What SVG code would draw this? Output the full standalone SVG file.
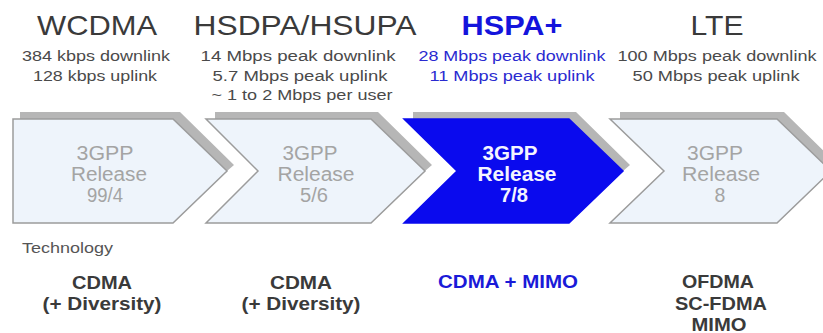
<svg xmlns="http://www.w3.org/2000/svg" width="823" height="333" viewBox="0 0 823 333">
  <style>
    .title { font-family: "Liberation Sans", Arial, sans-serif; font-size: 28px; fill: #3a3a3a; text-anchor: middle; }
    .title.hot { font-weight: bold; fill: #1414dc; }
    .rate { font-family: "Liberation Sans", Arial, sans-serif; font-size: 15.5px; fill: #4a4a4a; text-anchor: middle; }
    .rate.hot { fill: #2a2ad0; }
    .step { fill: #eef4fb; stroke: #9c9c9c; stroke-width: 1.5; stroke-linejoin: miter; }
    .step.hot { fill: #0a0aee; stroke: #0a0aee; }
    .shade { fill: #b6b6b6; }
    .rel { font-family: "Liberation Sans", Arial, sans-serif; font-size: 19.5px; fill: #a4a4a4; text-anchor: middle; }
    .rel.hot { font-weight: bold; fill: #f4f4ff; }
    .label { font-family: "Liberation Sans", Arial, sans-serif; font-size: 14.5px; fill: #555555; }
    .tech { font-family: "Liberation Sans", Arial, sans-serif; font-size: 18px; font-weight: bold; fill: #3a3a3a; text-anchor: middle; }
    .tech.hot { fill: #1a1ad8; }
  </style>
  <rect width="823" height="333" fill="#ffffff"/>

  <!-- WCDMA -->
  <g id="wcdma">
    <text class="title" x="97" y="35" textLength="120" lengthAdjust="spacingAndGlyphs">WCDMA</text>
    <text class="rate" x="96" y="61" textLength="148" lengthAdjust="spacingAndGlyphs">384 kbps downlink</text>
    <text class="rate" x="95" y="81" textLength="124" lengthAdjust="spacingAndGlyphs">128 kbps uplink</text>
    <polygon class="shade" points="20,112 180,112 234,165 227,171 173,119 20,119"/>
    <polygon class="step" points="13,119 173,119 227,171 173,223 13,223"/>
    <text class="rel" x="105" y="160" textLength="57" lengthAdjust="spacingAndGlyphs">3GPP</text>
    <text class="rel" x="109" y="181" textLength="76" lengthAdjust="spacingAndGlyphs">Release</text>
    <text class="rel" x="105" y="202" textLength="36" lengthAdjust="spacingAndGlyphs">99/4</text>
    <text class="tech" x="102" y="289" textLength="60" lengthAdjust="spacingAndGlyphs">CDMA</text>
    <text class="tech" x="102" y="310" textLength="119" lengthAdjust="spacingAndGlyphs">(+ Diversity)</text>
  </g>

  <!-- HSDPA/HSUPA -->
  <g id="hsdpa">
    <text class="title" x="305" y="35" textLength="223" lengthAdjust="spacingAndGlyphs">HSDPA/HSUPA</text>
    <text class="rate" x="298" y="61" textLength="195" lengthAdjust="spacingAndGlyphs">14 Mbps peak downlink</text>
    <text class="rate" x="300" y="81" textLength="175" lengthAdjust="spacingAndGlyphs">5.7 Mbps peak uplink</text>
    <text class="rate" x="302" y="100" textLength="181" lengthAdjust="spacingAndGlyphs">~ 1 to 2 Mbps per user</text>
    <polygon class="shade" points="215,112 378,112 432,165 425,171 371,119 215,119"/>
    <polygon class="step" points="206,119 371,119 425,171 371,223 206,223 258,171"/>
    <text class="rel" x="310" y="160" textLength="55" lengthAdjust="spacingAndGlyphs">3GPP</text>
    <text class="rel" x="316" y="181" textLength="77" lengthAdjust="spacingAndGlyphs">Release</text>
    <text class="rel" x="314" y="202" textLength="28" lengthAdjust="spacingAndGlyphs">5/6</text>
    <text class="tech" x="301" y="289" textLength="62" lengthAdjust="spacingAndGlyphs">CDMA</text>
    <text class="tech" x="301" y="310" textLength="119" lengthAdjust="spacingAndGlyphs">(+ Diversity)</text>
  </g>

  <!-- HSPA+ -->
  <g id="hspa-plus">
    <text class="title hot" x="512" y="35" textLength="101" lengthAdjust="spacingAndGlyphs">HSPA+</text>
    <text class="rate hot" x="512" y="61" textLength="187" lengthAdjust="spacingAndGlyphs">28 Mbps peak downlink</text>
    <text class="rate hot" x="512" y="81" textLength="165" lengthAdjust="spacingAndGlyphs">11 Mbps peak uplink</text>
    <polygon class="shade" points="413,112 576,112 630,165 623,171 569,119 413,119"/>
    <polygon class="step hot" points="404,119 569,119 623,171 569,223 404,223 457,171"/>
    <text class="rel hot" x="510" y="160" textLength="55" lengthAdjust="spacingAndGlyphs">3GPP</text>
    <text class="rel hot" x="517" y="181" textLength="79" lengthAdjust="spacingAndGlyphs">Release</text>
    <text class="rel hot" x="514" y="202" textLength="28" lengthAdjust="spacingAndGlyphs">7/8</text>
    <text class="tech hot" x="508" y="288" textLength="140" lengthAdjust="spacingAndGlyphs">CDMA + MIMO</text>
  </g>

  <!-- LTE -->
  <g id="lte">
    <text class="title" x="717" y="35" textLength="53" lengthAdjust="spacingAndGlyphs">LTE</text>
    <text class="rate" x="717" y="61" textLength="199" lengthAdjust="spacingAndGlyphs">100 Mbps peak downlink</text>
    <text class="rate" x="716" y="81" textLength="167" lengthAdjust="spacingAndGlyphs">50 Mbps peak uplink</text>
    <polygon class="shade" points="620,112 784,112 838,165 831,171 777,119 620,119"/>
    <polygon class="step" points="610,119 777,119 831,171 777,223 610,223 664,171"/>
    <text class="rel" x="715" y="160" textLength="56" lengthAdjust="spacingAndGlyphs">3GPP</text>
    <text class="rel" x="721" y="181" textLength="78" lengthAdjust="spacingAndGlyphs">Release</text>
    <text class="rel" x="720" y="202">8</text>
    <text class="tech" x="718" y="288" textLength="72" lengthAdjust="spacingAndGlyphs">OFDMA</text>
    <text class="tech" x="721" y="310" textLength="92" lengthAdjust="spacingAndGlyphs">SC-FDMA</text>
    <text class="tech" x="719" y="331" textLength="55" lengthAdjust="spacingAndGlyphs">MIMO</text>
  </g>

  <g id="legend">
    <text class="label" x="22" y="253" textLength="91" lengthAdjust="spacingAndGlyphs">Technology</text>
  </g>

  <!-- the steps touch edge to edge; no separate connector lines are drawn -->
  <g id="connectors"/>
</svg>
